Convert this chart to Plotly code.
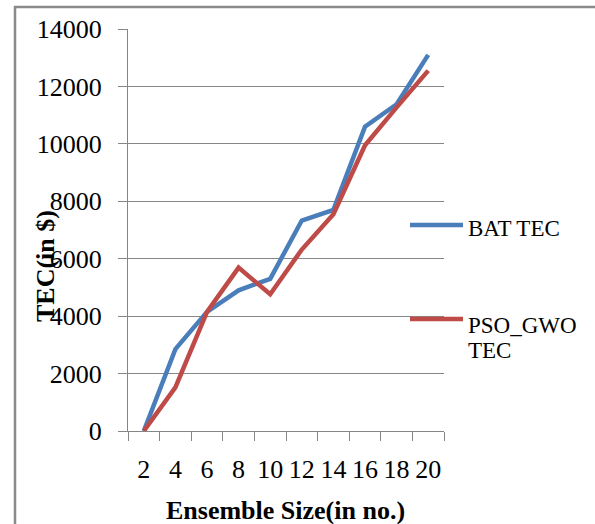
import plotly.graph_objects as go

# ---- data ----
ensemble_sizes = ["2", "4", "6", "8", "10", "12", "14", "16", "18", "20"]
bat_tec = [0, 2850, 4150, 4900, 5300, 7330, 7700, 10600, 11380, 13100]
pso_gwo_tec = [0, 1520, 4150, 5690, 4760, 6320, 7550, 9950, 11270, 12550]
series_names = ["BAT TEC", "PSO_GWO TEC"]
y_ticks = [0, 2000, 4000, 6000, 8000, 10000, 12000, 14000]

BLUE = "#4A7EBB"
RED = "#BE4B48"
GRAY = "#868686"
FONT = "Liberation Serif"

W, H = 595, 524
L, R, T, B = 128, 151, 29, 93
PW, PH = W - L - R, H - T - B


def px(xp):
    return (xp - L) / PW


def py(yp):
    return (H - B - yp) / PH


fig = go.Figure()
fig.add_trace(go.Scatter(x=ensemble_sizes, y=bat_tec, mode="lines", name=series_names[0],
                         line=dict(color=BLUE, width=4.5), showlegend=False))
fig.add_trace(go.Scatter(x=ensemble_sizes, y=pso_gwo_tec, mode="lines", name=series_names[1],
                         line=dict(color=RED, width=4.5), showlegend=False))

shapes = []
# outer frame (left and top edges visible)
shapes.append(dict(type="line", xref="paper", yref="paper", x0=px(15), x1=px(15), y0=py(6), y1=py(530),
                   line=dict(color="#8a8a8a", width=2.5)))
shapes.append(dict(type="line", xref="paper", yref="paper", x0=px(14), x1=px(600), y0=py(7), y1=py(7),
                   line=dict(color="#8a8a8a", width=2.5)))
# legend keys
shapes.append(dict(type="line", xref="paper", yref="paper", x0=px(410), x1=px(463), y0=py(225), y1=py(225),
                   line=dict(color=BLUE, width=4.5)))
shapes.append(dict(type="line", xref="paper", yref="paper", x0=px(410), x1=px(463), y0=py(319), y1=py(319),
                   line=dict(color=RED, width=4.5)))

annotations = [
    dict(text="BAT TEC", xref="paper", yref="paper", x=px(466), y=py(229), xanchor="left", yanchor="middle",
         showarrow=False, font=dict(family=FONT, size=23, color="black")),
    dict(text="PSO_GWO", xref="paper", yref="paper", x=px(466), y=py(325), xanchor="left", yanchor="middle",
         showarrow=False, font=dict(family=FONT, size=23, color="black")),
    dict(text="TEC", xref="paper", yref="paper", x=px(466), y=py(350), xanchor="left", yanchor="middle",
         showarrow=False, font=dict(family=FONT, size=23, color="black")),
    dict(text="<b>Ensemble Size(in no.)</b>", xref="paper", yref="paper", x=px(285), y=py(510),
         xanchor="center", yanchor="middle", showarrow=False,
         font=dict(family=FONT, size=26, color="black")),
    dict(text="<b>TEC(in $)</b>", xref="paper", yref="paper", x=px(45), y=py(266), textangle=-90,
         xanchor="center", yanchor="middle", showarrow=False,
         font=dict(family=FONT, size=26, color="black")),
]

fig.update_layout(
    width=W, height=H,
    margin=dict(l=L, r=R, t=T, b=B, pad=0),
    paper_bgcolor="white", plot_bgcolor="white",
    font=dict(family=FONT, size=26, color="black"),
    shapes=shapes, annotations=annotations,
    showlegend=False,
)
fig.update_xaxes(
    type="category", tickson="boundaries", ticks="outside", ticklen=9, tickcolor=GRAY, tickwidth=1,
    showline=True, linecolor=GRAY, linewidth=1, showgrid=False, zeroline=False,
    tickfont=dict(family=FONT, size=26, color="black"), ticklabelstandoff=15, tickangle=0,
    range=[-0.5, 9.5],
)
fig.update_yaxes(
    range=[0, 14000], tickvals=y_ticks, ticktext=[str(v) for v in y_ticks],
    ticks="outside", ticklen=9, tickcolor=GRAY, tickwidth=1,
    showline=True, linecolor=GRAY, linewidth=1,
    showgrid=True, gridcolor=GRAY, gridwidth=1, zeroline=False,
    tickfont=dict(family=FONT, size=26, color="black"), ticklabelstandoff=11,
)

fig.write_html("out.html")
